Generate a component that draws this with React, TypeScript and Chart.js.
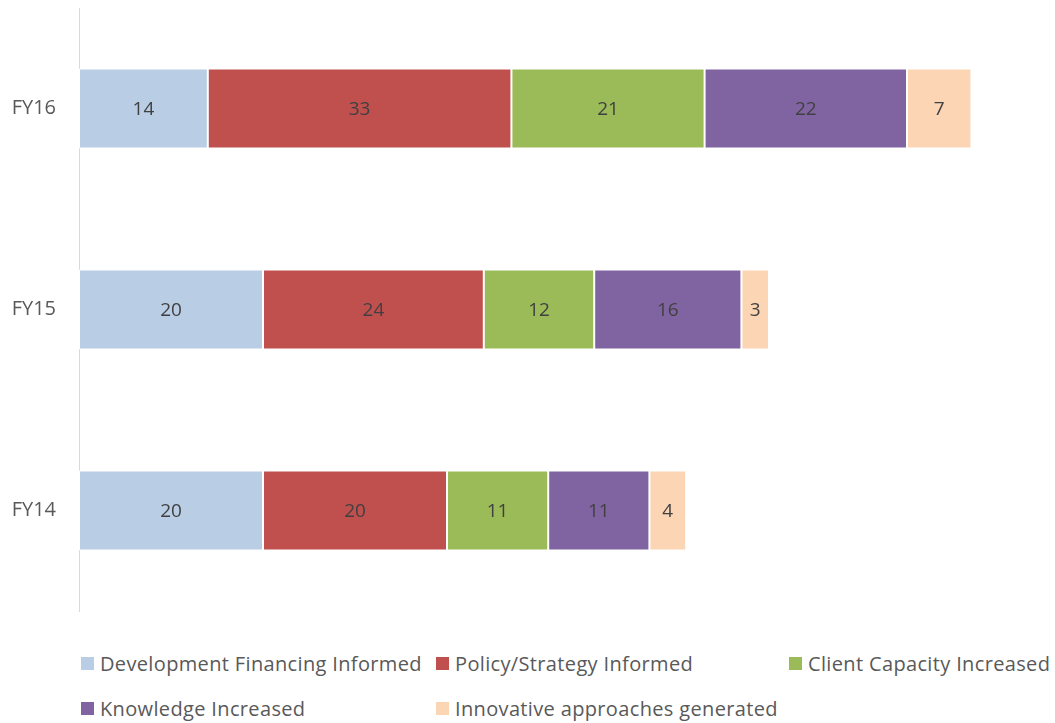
import React, { useEffect, useRef } from "react";
import { Chart, registerables } from "chart.js";

Chart.register(...registerables);

const categories = ["FY16", "FY15", "FY14"];
const seriesNames = [
  "Development Financing Informed",
  "Policy/Strategy Informed",
  "Client Capacity Increased",
  "Knowledge Increased",
  "Innovative approaches generated",
];
const devFinancing = [14, 20, 20];
const policyStrategy = [33, 24, 20];
const clientCapacity = [21, 12, 11];
const knowledge = [22, 16, 11];
const innovative = [7, 3, 4];
const colors = ["#B9CDE5", "#C0504D", "#9BBB59", "#8064A2", "#FCD5B5"];

const FONT = "'Open Sans', sans-serif";

const valueLabels = {
  id: "valueLabels",
  afterDatasetsDraw(chart: any) {
    const ctx = chart.ctx;
    ctx.save();
    ctx.font = `19px ${FONT}`;
    ctx.fillStyle = "#404040";
    ctx.textAlign = "center";
    ctx.textBaseline = "middle";
    chart.data.datasets.forEach((ds: any, i: number) => {
      const meta = chart.getDatasetMeta(i);
      meta.data.forEach((bar: any, j: number) => {
        const { x, base, y } = bar.getProps(["x", "base", "y"], true);
        ctx.fillText(String(ds.data[j]), (x + base) / 2, y + 1);
      });
    });
    ctx.restore();
  },
};

export default function App() {
  const ref = useRef<HTMLCanvasElement>(null);
  useEffect(() => {
    document.body.style.margin = "0";
    const all = [devFinancing, policyStrategy, clientCapacity, knowledge, innovative];
    const chart = new Chart(ref.current!, {
      type: "bar",
      data: {
        labels: categories,
        datasets: all.map((d, i) => ({
          label: seriesNames[i],
          data: d,
          backgroundColor: colors[i],
          borderColor: "#ffffff",
          borderWidth: 1,
          borderSkipped: false,
          categoryPercentage: 1,
          barPercentage: 0.398,
        })),
      },
      options: {
        indexAxis: "y",
        animation: false,
        responsive: false,
        layout: { padding: { top: 8, bottom: 9, left: 0, right: 56 } },
        plugins: { legend: { display: false }, tooltip: { enabled: false } },
        scales: {
          x: { stacked: true, display: false, min: 0, max: 100 },
          y: {
            stacked: true,
            grid: { display: false, drawTicks: false },
            border: { display: true, color: "#D9D9D9", width: 1 },
            ticks: { color: "#595959", font: { family: FONT, size: 20 }, padding: 23 },
            afterFit(scale: any) {
              scale.width = 79;
              scale.paddingTop = 0;
              scale.paddingBottom = 0;
            },
          },
        },
      },
      plugins: [valueLabels],
    });
    return () => chart.destroy();
  }, []);

  const legendPos = [
    { left: 81, top: 652 },
    { left: 436, top: 652 },
    { left: 789, top: 652 },
    { left: 81, top: 697 },
    { left: 436, top: 697 },
  ];

  return (
    <div style={{ position: "relative", width: 1055, height: 723, background: "#fff", fontFamily: FONT }}>
      <canvas ref={ref} width={1055} height={620} style={{ position: "absolute", left: 0, top: 0 }} />
      {seriesNames.map((n, i) => (
        <div
          key={n}
          style={{
            position: "absolute",
            left: legendPos[i].left,
            top: legendPos[i].top,
            display: "flex",
            alignItems: "center",
            height: 22,
            fontSize: 20,
            letterSpacing: "0.35px",
            color: "#595959",
            whiteSpace: "nowrap",
          }}
        >
          <span style={{ display: "inline-block", width: 13, height: 13, background: colors[i], marginRight: 6 }} />
          <span>{n}</span>
        </div>
      ))}
    </div>
  );
}
